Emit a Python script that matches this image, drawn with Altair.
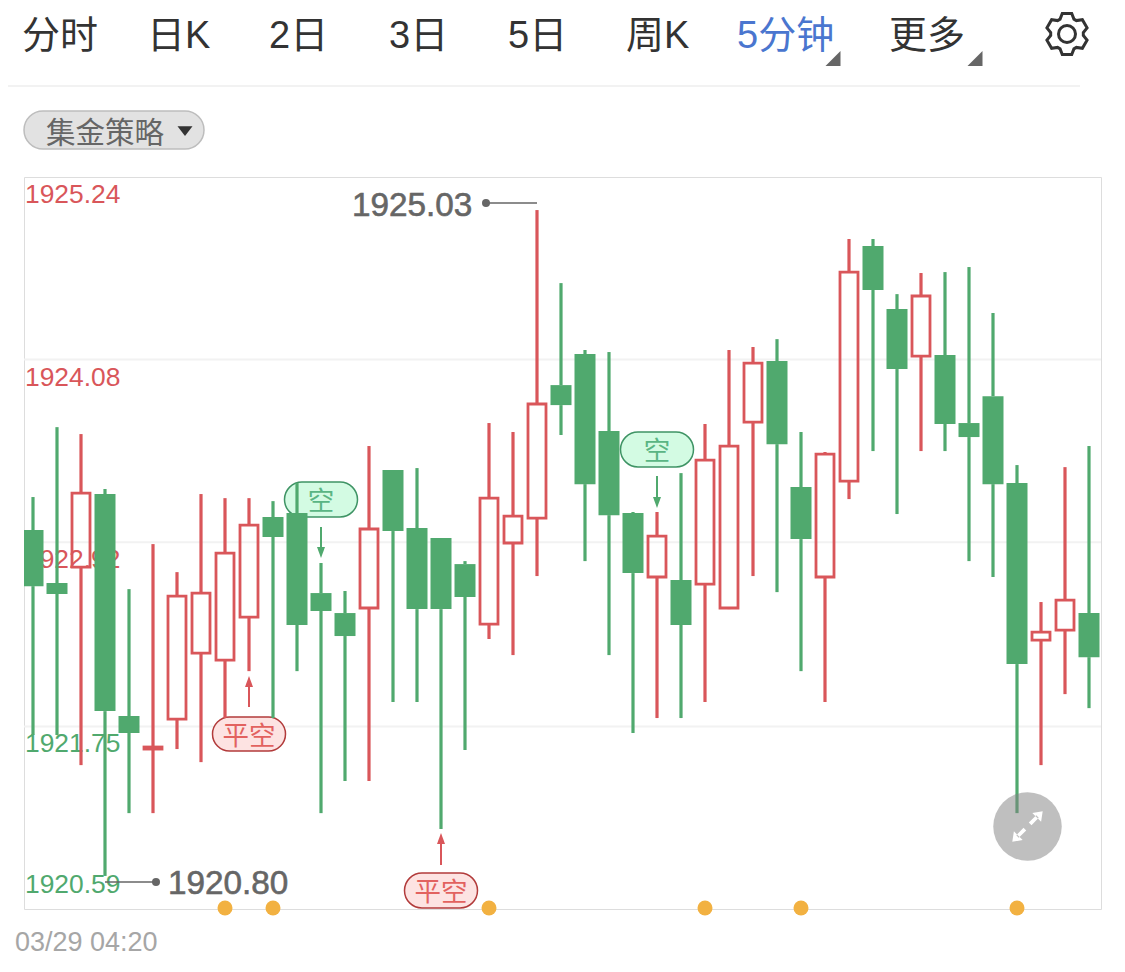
import math
import altair as alt
import pandas as pd

# ---- data ----
opens = [1922.997,1922.661,1922.762,1923.226,1921.816,1921.606,1921.796,1922.216,1922.171,1922.444,
         1923.080,1923.105,1922.597,1922.470,1922.502,1923.378,1923.010,1922.946,1922.781,1922.400,
         1922.915,1923.073,1923.918,1924.115,1923.626,1923.105,1922.699,1922.680,1922.654,1922.502,
         1923.683,1924.071,1923.270,1922.699,1923.308,1924.801,1924.401,1924.102,1924.109,1923.677,
         1923.848,1923.296,1922.298,1922.362,1922.470]
closes = [1922.641,1922.591,1923.232,1921.847,1921.708,1921.619,1922.578,1922.597,1922.851,1923.029,
          1922.953,1922.394,1922.483,1922.324,1923.004,1922.991,1922.495,1922.495,1922.572,1923.200,
          1923.086,1923.798,1923.791,1923.289,1923.092,1922.724,1922.959,1922.394,1923.442,1923.531,
          1924.058,1923.543,1922.940,1923.480,1924.636,1924.522,1924.020,1924.484,1923.671,1923.588,
          1923.289,1922.146,1922.349,1922.552,1922.190]
highs = [1923.207,1923.651,1923.607,1923.258,1922.622,1922.908,1922.730,1923.226,1923.200,1923.200,
         1923.181,1923.296,1922.788,1922.610,1923.531,1923.378,1923.391,1922.946,1922.800,1923.677,
         1923.620,1925.030,1924.566,1924.141,1924.128,1923.112,1923.112,1923.359,1923.671,1924.141,
         1924.160,1924.210,1923.620,1923.493,1924.846,1924.846,1924.496,1924.630,1924.636,1924.668,
         1924.376,1923.410,1922.540,1923.397,1923.531]
lows = [1921.695,1921.695,1921.504,1920.800,1921.199,1921.199,1921.606,1921.523,1921.803,1922.101,
        1921.803,1922.101,1921.199,1921.403,1921.403,1921.905,1921.905,1921.098,1921.600,1922.305,
        1922.203,1922.705,1923.601,1922.800,1922.203,1921.708,1921.803,1921.803,1921.905,1922.495,
        1922.705,1922.603,1922.101,1921.905,1923.194,1923.499,1923.099,1923.499,1923.499,1922.800,
        1922.699,1921.199,1921.504,1921.955,1921.866]
grid_prices = [1924.08, 1922.92, 1921.75]
axis_prices = [1925.24, 1924.08, 1922.92, 1921.75, 1920.59]
axis_labels = ["1925.24", "1924.08", "1922.92", "1921.75", "1920.59"]
axis_sides = ["up", "up", "up", "down", "down"]
event_candles = [8, 10, 19, 28, 32, 41]
tabs = ["分时", "日K", "2日", "3日", "5日", "周K", "5分钟", "更多"]

RED = "#d9565a"
GREEN = "#50a96e"
FONT = "Liberation Sans, Noto Sans CJK SC"
OX, OY = 24, 177  # plot-area origin on the page

x_scale = alt.Scale(domain=[-0.375, 44.5], nice=False, zero=False, padding=0)
y_scale = alt.Scale(domain=[1920.59, 1925.24], nice=False, zero=False, padding=0)
X = alt.X("i:Q", scale=x_scale, axis=None)
dir_color = alt.Color("side:N", scale=alt.Scale(domain=["up", "down"], range=[RED, GREEN]), legend=None)

df = pd.DataFrame({"i": range(len(opens)), "o": opens, "c": closes, "h": highs, "l": lows})
df["top"] = df[["o", "c"]].max(axis=1)
df["bot"] = df[["o", "c"]].min(axis=1)
df["side"] = ["up" if c >= o else "down" for o, c in zip(opens, closes)]


def one():
    return alt.Chart(pd.DataFrame({"a": [0]}))


def txt(s, px, py, size, color, align="left", **kw):
    return alt.Chart(pd.DataFrame({"t": [s]})).mark_text(
        font=FONT, fontSize=size, color=color, align=align, baseline="middle", **kw
    ).encode(x=alt.value(px - OX), y=alt.value(py - OY), text="t:N")


def hline(x1, x2, y, color, width):
    return one().mark_rule(color=color, strokeWidth=width).encode(
        x=alt.value(x1 - OX), x2=alt.value(x2 - OX), y=alt.value(y - OY))


def vline(x, y1, y2, color, width):
    return one().mark_rule(color=color, strokeWidth=width).encode(
        x=alt.value(x - OX), y=alt.value(y1 - OY), y2=alt.value(y2 - OY))


def symbol(path, px, py, box, **kw):
    return one().mark_point(shape=path, size=box * box, opacity=1, **kw).encode(
        x=alt.value(px - OX), y=alt.value(py - OY))


def pill(x1, x2, y1, y2, fill, stroke, sw=1.5):
    return one().mark_rect(cornerRadius=(y2 - y1) / 2, fill=fill, stroke=stroke, strokeWidth=sw).encode(
        x=alt.value(x1 - OX), x2=alt.value(x2 - OX), y=alt.value(y1 - OY), y2=alt.value(y2 - OY))


# gear outline
pts = []
for k in range(6):
    a = k * 60 - 90
    for r, d in ((0.78, -25), (1.0, -13), (1.0, 13), (0.78, 25)):
        t = math.radians(a + d)
        pts.append(f"{r * math.cos(t):.3f},{r * math.sin(t):.3f}")
GEAR = "M" + " L".join(pts) + " Z"
TRI_CORNER = "M1,-1 L1,1 L-1,1 Z"
TRI_DOWN = "M-1,-0.65 L1,-0.65 L0,0.65 Z"
HEAD_UP = "M0,-1.1 L0.8,1.1 L-0.8,1.1 Z"
HEAD_DOWN = "M0,1.1 L0.8,-1.1 L-0.8,-1.1 Z"
EXPAND = ("M.95,-.95 L.3,-.85 L.85,-.3 Z M.55,-.7 L.7,-.55 L.25,-.08 L.08,-.25 Z "
          "M-.95,.95 L-.85,.3 L-.3,.85 Z M-.7,.55 L-.55,.7 L-.08,.25 L-.25,.08 Z")

layers = []

# top bar
tab_starts = [22, 147, 269, 389, 508, 626, 737, 889]
for name, sx in zip(tabs, tab_starts):
    layers.append(txt(name, sx, 37, 38, "#4a76cf" if name == "5分钟" else "#333333"))
layers += [
    symbol(TRI_CORNER, 833, 58.5, 15, filled=True, color="#666666"),
    symbol(TRI_CORNER, 975, 58.5, 15, filled=True, color="#666666"),
    symbol(GEAR, 1067, 34, 42, filled=False, color="#333333", strokeWidth=3),
    one().mark_point(shape="circle", size=289, opacity=1, filled=False, color="#333333", strokeWidth=3).encode(
        x=alt.value(1067 - OX), y=alt.value(34 - OY)),
    hline(8, 1080, 86, "#f2f2f2", 2),
    pill(24, 204, 111, 149, "#e2e2e2", "#bdbdbd"),
    txt("集金策略", 46, 134, 29.5, "#666666"),
    symbol(TRI_DOWN, 185, 131, 15, filled=True, color="#333333"),
]

# grid and price labels
layers.append(alt.Chart(pd.DataFrame({"p": grid_prices})).mark_rule(color="#f2f2f2", strokeWidth=2).encode(
    y=alt.Y("p:Q", scale=y_scale, axis=None)))
lab = pd.DataFrame({"p": axis_prices, "t": axis_labels, "side": axis_sides})
base_lab = alt.Chart(lab).encode(
    x=alt.value(1), y=alt.Y("p:Q", scale=y_scale, axis=None), text="t:N", color=dir_color)
layers.append(base_lab.transform_filter("datum.p > 1921").mark_text(
    font=FONT, fontSize=26.4, align="left", baseline="middle", dy=18))
layers.append(base_lab.transform_filter("datum.p < 1921").mark_text(
    font=FONT, fontSize=26.4, align="left", baseline="middle", dy=-24))

# strategy pills and arrows
G_FILL, G_STROKE, G_TEXT = "#d3fbe3", "#3f9465", "#5ab584"
R_FILL, R_STROKE, R_TEXT = "#fde3e2", "#b23b3b", "#e2625f"
layers += [
    pill(284.5, 357.5, 482, 517, G_FILL, G_STROKE),
    txt("空", 321, 502, 26.5, G_TEXT, align="center"),
    vline(321, 527, 549, GREEN, 2),
    symbol(HEAD_DOWN, 321, 552.5, 10, filled=True, color=GREEN),
    pill(620.5, 693.5, 432, 467, G_FILL, G_STROKE),
    txt("空", 657, 452, 26.5, G_TEXT, align="center"),
    vline(657, 476, 498, GREEN, 2),
    symbol(HEAD_DOWN, 657, 502.5, 10, filled=True, color=GREEN),
    pill(212.5, 285.5, 717, 751, R_FILL, R_STROKE),
    txt("平空", 249, 737, 26.5, R_TEXT, align="center"),
    vline(249, 686, 707, RED, 2),
    symbol(HEAD_UP, 249, 681.5, 10, filled=True, color=RED),
    pill(404.5, 477.5, 873, 908, R_FILL, R_STROKE),
    txt("平空", 441, 893, 26.5, R_TEXT, align="center"),
    vline(441, 843, 865, RED, 2),
    symbol(HEAD_UP, 441, 838.5, 10, filled=True, color=RED),
]

# event dots
layers.append(alt.Chart(pd.DataFrame({"i": event_candles, "p": [axis_prices[-1]] * len(event_candles)}))
              .mark_circle(size=225, color="#f2b141", opacity=1)
              .encode(x=X, y=alt.Y("p:Q", scale=y_scale, axis=None), yOffset=alt.value(-1)))

# candles
candles = alt.Chart(df)
layers.append(candles.mark_rule(strokeWidth=3.2).encode(
    x=X, y=alt.Y("h:Q", scale=y_scale, axis=None), y2="top:Q", color=dir_color))
layers.append(candles.mark_rule(strokeWidth=3.2).encode(
    x=X, y=alt.Y("bot:Q", scale=y_scale, axis=None), y2="l:Q", color=dir_color))
layers.append(candles.transform_filter("datum.side == 'down'").mark_bar(size=21, color=GREEN, clip=True).encode(
    x=X, y=alt.Y("top:Q", scale=y_scale, axis=None), y2="bot:Q"))
layers.append(candles.transform_filter("datum.side == 'up'").mark_bar(
    size=18, fill="transparent", stroke=RED, strokeWidth=2.8, clip=True).encode(
    x=X, y=alt.Y("top:Q", scale=y_scale, axis=None), y2="bot:Q"))

# extreme annotations
DARK = "#666666"
layers += [
    hline(486, 537, 203, DARK, 1.5),
    one().mark_circle(size=64, color=DARK, opacity=1).encode(x=alt.value(486 - OX), y=alt.value(203 - OY)),
    txt("1925.03", 352, 206, 33.3, DARK, stroke=DARK, strokeWidth=0.6),
    hline(105, 156, 882, DARK, 1.5),
    one().mark_circle(size=64, color=DARK, opacity=1).encode(x=alt.value(156 - OX), y=alt.value(882 - OY)),
    txt("1920.80", 168, 884, 33.3, DARK, stroke=DARK, strokeWidth=0.6),
]

# full-screen button and footer
layers += [
    one().mark_circle(size=4692, color="#808080", opacity=0.5).encode(x=alt.value(1027.5 - OX), y=alt.value(826.5 - OY)),
    symbol(EXPAND, 1027.5, 826.5, 32, filled=True, color="#ffffff"),
    txt("03/29 04:20", 15, 943, 27, "#a6a6a6"),
]

chart = alt.layer(*layers).properties(
    width=1077,
    height=732,
    padding={"left": 16, "top": 169, "right": 8, "bottom": 55},
    autosize=alt.AutoSizeParams(type="none"),
).configure_view(stroke="#f1f1f1", strokeWidth=2).configure(background="#ffffff")

chart.save("out.html", embed_options={"renderer": "svg", "actions": False})
